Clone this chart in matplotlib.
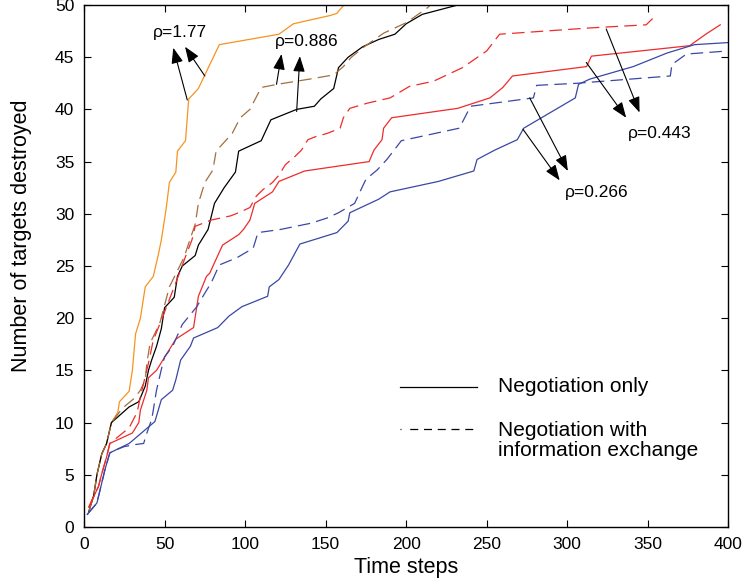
import matplotlib
matplotlib.use("Agg")
import matplotlib.pyplot as plt

plt.rcParams["font.family"] = ["Liberation Sans", "DejaVu Sans"]

# cumulative targets destroyed per run, read at the vertices of each curve
orange_x = [3, 6, 8, 11, 14, 17, 21, 22, 28, 30, 32, 35, 38, 43, 46, 48, 51, 53,
            57, 58, 63, 65, 71, 75, 84, 121, 130, 153, 157, 164]
orange_y = [1.9, 3, 5, 7, 8, 10, 11, 12, 13, 15, 18.5, 20, 23, 24, 26, 27.5, 30.5, 33,
            34, 36, 37, 41, 42, 43.3, 46.2, 47.2, 48.2, 49, 49.2, 50.5]

black_x = [3, 6, 8, 11, 14, 17, 28, 34, 38, 40, 42, 45, 48, 50, 56, 58, 61, 69, 71,
           77, 81, 87, 94, 96, 110, 116, 132, 143, 147, 155, 158, 164, 173, 183,
           193, 200, 210, 237]
black_y = [1.5, 3, 5, 7, 8, 10, 11.5, 12, 13.5, 15, 16, 17.3, 19, 21, 22, 24, 25, 26, 27,
           28.5, 31, 32.5, 34, 36, 37, 39, 40, 40.3, 41, 42, 44, 45, 46, 46.7,
           47.2, 48.2, 49.1, 50.2]

brown_x = [3, 6, 8, 11, 14, 17, 24, 31, 35, 38, 39, 41, 47, 53, 62, 69, 71, 75, 80,
           82, 92, 97, 103, 110, 120, 140, 155, 161, 166, 174, 186, 200, 213, 217]
brown_y = [1.5, 3, 5, 7, 8, 10, 11.4, 12.3, 13.1, 14.1, 15.7, 17.6, 19.5, 23, 25.8, 29, 31, 33, 34.2,
           36, 37.7, 39.2, 40, 42.1, 42.4, 42.9, 43.3, 44.1, 45, 46, 47.3, 48.3, 49.7, 50.3]

red_x = [3, 9, 11, 14, 16, 30, 34, 35, 39, 40, 45, 49, 57, 68, 71, 76, 78, 86, 96,
         99, 103, 106, 117, 121, 137, 177, 180, 185, 186, 191, 232, 252, 260, 266,
         312, 315, 376, 386, 395]
red_y = [1.9, 3.9, 5.1, 6.7, 8, 9, 10, 11.2, 13.1, 14.3, 15, 16, 18, 19.1, 22.1, 24, 24.3, 27, 28,
         28.5, 29.4, 31, 32.1, 33.1, 34.1, 35, 36.1, 37.1, 38.2, 39.2, 40.1, 41.1, 42.1, 43.2,
         44.1, 45.1, 46.1, 47.2, 48.1]

red_dash_x = [3, 9, 11, 14, 16, 28, 33, 35, 40, 43, 48, 53, 57, 63, 67, 69, 79, 91, 96,
              103, 107, 111, 117, 121, 125, 131, 135, 139, 144, 151, 159, 161, 165,
              176, 190, 202, 217, 235, 250, 258, 314, 349, 353]
red_dash_y = [1.9, 3.9, 5.1, 6.7, 8, 9.5, 11, 12.5, 15.7, 17.9, 19.8, 21.8, 23.4, 25.9, 27.5, 28.8,
              29.4, 29.8, 30.1, 30.6, 31.7, 32.3, 33, 33.7, 34.7, 35.5, 36.1, 37.1, 37.4, 37.7,
              38.2, 39.2, 40.1, 40.6, 41.1, 42.2, 42.7, 44, 45.6, 47.2, 47.8, 48.1, 48.7]

blue_x = [2, 8, 13, 16, 28, 44, 48, 55, 57, 60, 66, 68, 83, 90, 98, 114, 115, 121,
          127, 134, 157, 164, 165, 183, 190, 220, 242, 244, 255, 269, 273, 305,
          307, 314, 341, 362, 379, 400]
blue_y = [1.2, 2.3, 5.5, 7.1, 8, 10.1, 12.2, 13.1, 14.1, 16, 17.3, 18.1, 19.1, 20.2, 21.1, 22.1, 23,
          23.7, 25.1, 27.1, 28.2, 29.3, 30.1, 31.4, 32.1, 33.1, 34.1, 35.2, 36.1, 37.1, 38.2,
          41.1, 42.4, 42.9, 44.1, 45.4, 46.2, 46.4]

blue_dash_x = [2, 8, 13, 16, 20, 25, 32, 37, 39, 42, 43, 45, 48, 50, 55, 61, 70, 75,
               79, 84, 95, 105, 108, 122, 141, 151, 158, 168, 171, 175, 182, 188,
               197, 233, 240, 279, 281, 306, 364, 365, 374, 400]
blue_dash_y = [1.2, 2.3, 5.5, 7.1, 7.4, 7.7, 7.9, 8, 9, 10.3, 11.2, 13.1, 15.1, 16.3, 17.3, 19.4,
               21.1, 22.4, 23.4, 25.1, 25.8, 26.7, 28.2, 28.5, 29.1, 29.6, 30.1, 31, 32,
               33.3, 34.2, 35.2, 37, 38.2, 40.3, 41.1, 42.3, 42.5, 43.2, 44.3, 45.3, 45.6]

# rho labels: (text, text position, [(tail, head), ...])
rho_labels = [
    ("ρ=1.77", (42.8, 47.4), [((64.1, 40.9), (55.4, 45.9)), ((75.0, 43.2), (62.7, 46.0))]),
    ("ρ=0.886", (118.5, 46.5), [((119.5, 42.4), (122.6, 45.3)), ((132.0, 39.8), (134.0, 45.1))]),
    ("ρ=0.443", (337.5, 37.7), [((324.2, 47.7), (344.9, 39.7)), ((311.8, 44.5), (336.6, 39.2))]),
    ("ρ=0.266", (298.4, 32.05), [((276.7, 41.1), (300.4, 34.1)), ((272.5, 38.1), (295.3, 33.2))]),
]

ORANGE = "#f7931e"
BROWN = "#a26f3e"
RED = "#ee2b2b"
BLUE = "#3a47a5"
DASH = (10, 5)

fig = plt.figure(figsize=(7.45, 5.86), dpi=100)
ax = fig.add_axes([0.1128, 0.1007, 0.8648, 0.8908])

lw = 0.9
ax.plot(orange_x, orange_y, color=ORANGE, lw=lw)
ax.plot(black_x, black_y, color="black", lw=lw)
ax.plot(brown_x, brown_y, color=BROWN, lw=lw, dashes=DASH)
ax.plot(red_x, red_y, color=RED, lw=lw)
ax.plot(red_dash_x, red_dash_y, color=RED, lw=lw, dashes=DASH)
ax.plot(blue_x, blue_y, color=BLUE, lw=lw)
ax.plot(blue_dash_x, blue_dash_y, color=BLUE, lw=lw, dashes=DASH)

for label, pos, arrows in rho_labels:
    ax.text(pos[0], pos[1], label, fontsize=12.5, ha="left", va="center")
    for tail, head in arrows:
        ax.annotate("", xy=head, xytext=tail,
                    arrowprops=dict(arrowstyle="-|>,head_length=0.95,head_width=0.36",
                                    color="black", lw=0.8, shrinkA=0, shrinkB=0))

ax.set_xlim(0, 400)
ax.set_ylim(0, 50)
ax.set_xticks(range(0, 401, 50))
ax.set_yticks(range(0, 51, 5))
ax.tick_params(direction="in", length=5, width=0.8, top=True, right=True,
               labelsize=12.5, pad=7)
for s in ax.spines.values():
    s.set_linewidth(1.0)

ax.set_xlabel("Time steps", fontsize=15.5, labelpad=4)
ax.set_ylabel("Number of targets destroyed", fontsize=15.5)
ax.yaxis.set_label_coords(-0.08, 0.557)

# hand-placed legend (no frame)
ax.plot([0.4905, 0.6095], [0.2682, 0.2682], transform=ax.transAxes,
        color="black", lw=0.9)
ax.plot([0.4905, 0.6095], [0.1877, 0.1877], transform=ax.transAxes,
        color="black", lw=0.9,
        dashes=(0.8, 7, 6.4, 4.6, 6.4, 4.6, 6.4, 4.6, 6.4, 4.6, 6.4, 60))
ax.text(0.643, 0.2682, "Negotiation only", transform=ax.transAxes,
        fontsize=15, ha="left", va="center")
ax.text(0.643, 0.1657, "Negotiation with\ninformation exchange", transform=ax.transAxes,
        fontsize=15, ha="left", va="center", linespacing=1.1)

fig.savefig("out.png", dpi=100)
